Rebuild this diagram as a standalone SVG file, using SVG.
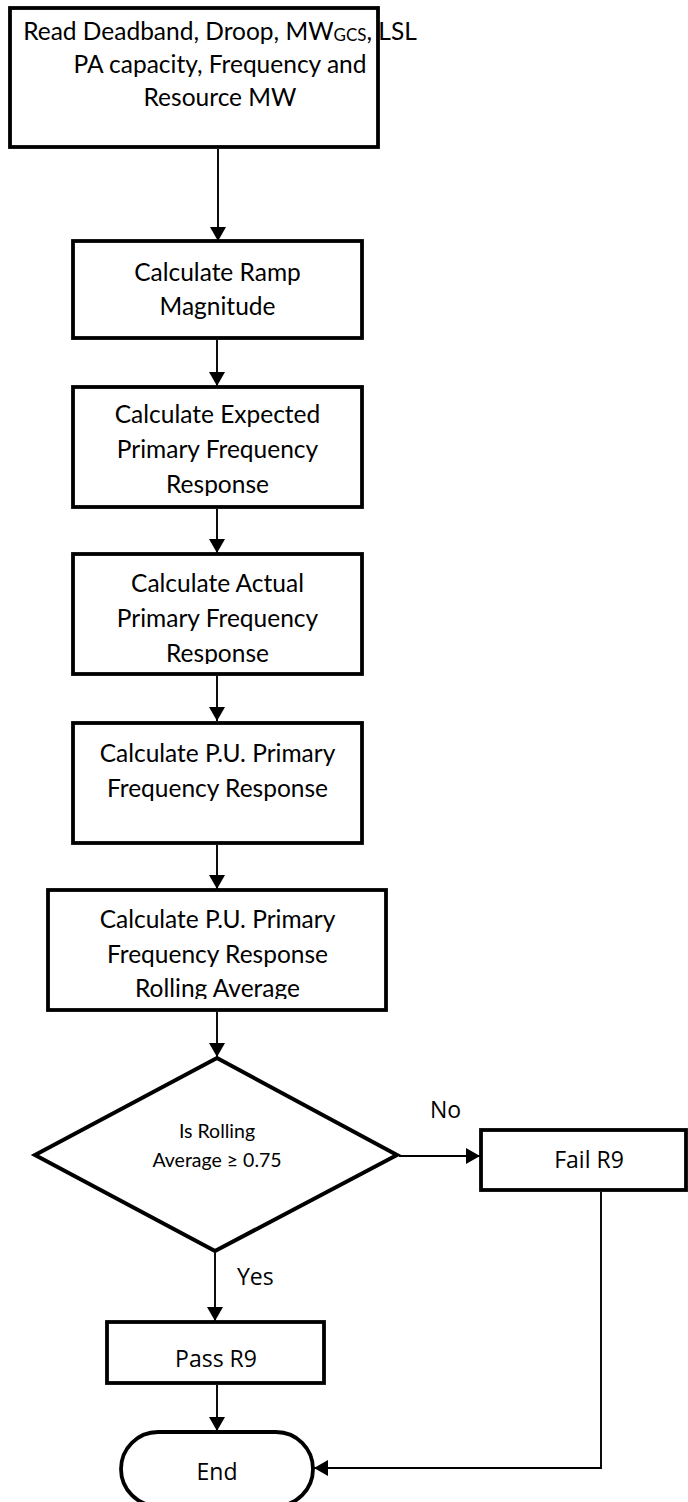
<svg xmlns="http://www.w3.org/2000/svg" width="688" height="1502" viewBox="0 0 688 1502">
<style>
.box{fill:#fff;stroke:#000;stroke-width:3.8}
.t{font-family:Lato,"Liberation Sans",sans-serif;font-size:24.5px;fill:#000;text-anchor:middle}
.d{font-family:Lato,"Liberation Sans",sans-serif;font-size:19.5px;fill:#000;text-anchor:middle}
.l{font-family:"Open Sans","Noto Sans",sans-serif;font-size:23px;fill:#000}
.c{fill:none;stroke:#000;stroke-width:1.9}
</style>
<defs>
<marker id="ah" viewBox="0 0 14 16" refX="14" refY="8" markerWidth="14" markerHeight="16" markerUnits="userSpaceOnUse" orient="auto"><path d="M0,0 L14,8 L0,16 Z" fill="#000"/></marker>
<clipPath id="cpE"><rect x="73" y="387" width="289" height="109"/></clipPath>
<clipPath id="cpA"><rect x="73" y="554" width="289" height="110"/></clipPath>
<clipPath id="cpR"><rect x="48" y="890" width="338" height="109"/></clipPath>
</defs>
<rect width="688" height="1502" fill="#fff"/>
<g id="connectors">
<line class="c" x1="218" y1="149" x2="218" y2="241" marker-end="url(#ah)"/>
<line class="c" x1="217" y1="340" x2="217" y2="386" marker-end="url(#ah)"/>
<line class="c" x1="217" y1="509" x2="217" y2="553" marker-end="url(#ah)"/>
<line class="c" x1="217" y1="676" x2="217" y2="721" marker-end="url(#ah)"/>
<line class="c" x1="217" y1="845" x2="217" y2="889" marker-end="url(#ah)"/>
<line class="c" x1="217" y1="1012" x2="217" y2="1057" marker-end="url(#ah)"/>
<line class="c" x1="399" y1="1156" x2="480" y2="1156" marker-end="url(#ah)"/>
<line class="c" x1="215" y1="1253" x2="215" y2="1321" marker-end="url(#ah)"/>
<line class="c" x1="217" y1="1385" x2="217" y2="1431" marker-end="url(#ah)"/>
<polyline class="c" points="601,1192 601,1468 314,1468" marker-end="url(#ah)"/>
<text class="l" x="430" y="1118">No</text>
<text class="l" x="237" y="1285">Yes</text>
</g>
<g id="n1">
<rect class="box" x="10" y="8" width="368" height="139"/>
<text class="t" x="220" y="40">Read Deadband, Droop, MW<tspan font-size="17" dy="1">GCS</tspan><tspan dy="-1">, LSL</tspan></text>
<text class="t" x="220" y="73">PA capacity, Frequency and</text>
<text class="t" x="220" y="106">Resource MW</text>
</g>
<g id="n2">
<rect class="box" x="73" y="241" width="289" height="97"/>
<text class="t" x="217.5" y="281">Calculate Ramp</text>
<text class="t" x="217.5" y="315">Magnitude</text>
</g>
<g id="n3">
<rect class="box" x="73" y="387" width="289" height="120"/>
<g clip-path="url(#cpE)">
<text class="t" x="217.5" y="423">Calculate Expected</text>
<text class="t" x="217.5" y="458">Primary Frequency</text>
<text class="t" x="217.5" y="493">Response</text>
</g>
</g>
<g id="n4">
<rect class="box" x="73" y="554" width="289" height="120"/>
<g clip-path="url(#cpA)">
<text class="t" x="217.5" y="592">Calculate Actual</text>
<text class="t" x="217.5" y="627">Primary Frequency</text>
<text class="t" x="217.5" y="662">Response</text>
</g>
</g>
<g id="n5">
<rect class="box" x="73" y="723" width="289" height="120"/>
<text class="t" x="217.5" y="762">Calculate P.U. Primary</text>
<text class="t" x="217.5" y="797">Frequency Response</text>
</g>
<g id="n6">
<rect class="box" x="48" y="890" width="338" height="120"/>
<g clip-path="url(#cpR)">
<text class="t" x="217.5" y="928">Calculate P.U. Primary</text>
<text class="t" x="217.5" y="963">Frequency Response</text>
<text class="t" x="217.5" y="997">Rolling Average</text>
</g>
</g>
<g id="n7">
<polygon points="217,1058 397,1155 215,1251 35,1155" fill="#fff" stroke="#000" stroke-width="4"/>
<text class="d" x="217" y="1138">Is Rolling</text>
<text class="d" x="217" y="1167">Average ≥ 0.75</text>
</g>
<g id="n8">
<rect class="box" x="481" y="1130" width="205" height="60"/>
<text class="l" x="589" y="1168" text-anchor="middle">Fail R9</text>
</g>
<g id="n9">
<rect class="box" x="107" y="1322" width="217" height="61"/>
<text class="l" x="216" y="1367" text-anchor="middle" font-size="26">Pass R9</text>
</g>
<g id="n10">
<rect class="box" x="121" y="1432" width="192" height="74" rx="37"/>
<text class="l" x="217" y="1480" text-anchor="middle">End</text>
</g>
</svg>
